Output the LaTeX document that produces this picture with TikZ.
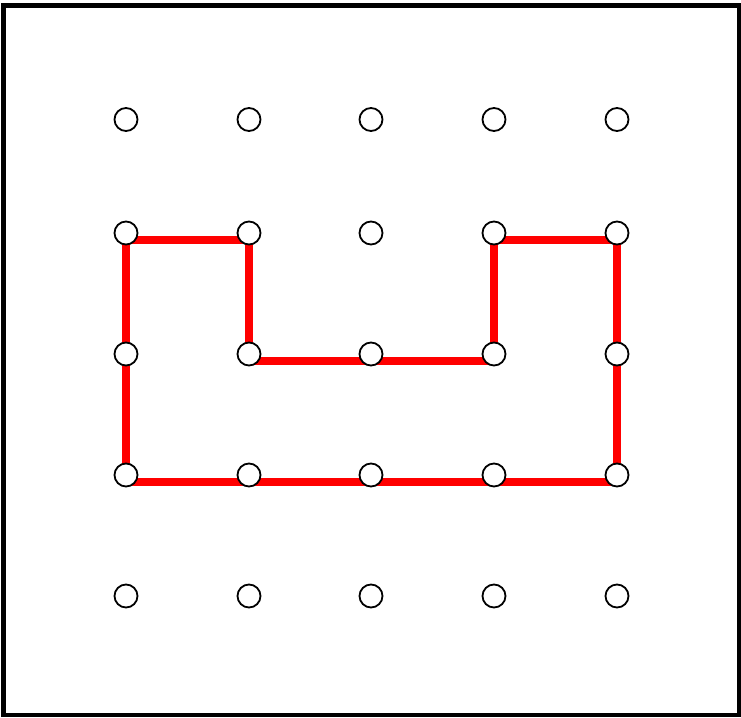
\documentclass[tikz,border=0pt]{standalone}
\usetikzlibrary{calc, backgrounds}

\begin{document}
\begin{tikzpicture}[
    x=1pt, y=-1pt,
    peg/.style={draw, circle, fill=white, line width=1.8pt, minimum size=23pt, inner sep=0pt},
    band/.style={draw=red, line width=8pt, line join=miter},
    frame/.style={draw=black, line width=4.5pt}
]
\useasboundingbox (0,0) rectangle (741,717);
\draw[frame] (3.5,5.5) rectangle (739.5,715);

% pegs, rows top to bottom
\foreach \y [count=\r] in {119.5,233,354,475,596}
  \foreach \x [count=\c] in {126,249,371,494,617}
    \node[peg] (p\r\c) at (\x,\y) {};

% rubber band, sitting a little below the peg centres
\begin{scope}[on background layer]
\draw[band] ($(p21)+(0,6.5)$) -- ($(p22)+(0,6.5)$) -- ($(p32)+(0,6.5)$)
    -- ($(p34)+(0,6.5)$) -- ($(p24)+(0,6.5)$) -- ($(p25)+(0,6.5)$)
    -- ($(p45)+(0,6.5)$) -- ($(p41)+(0,6.5)$) -- cycle;
\end{scope}
\end{tikzpicture}
\end{document}
